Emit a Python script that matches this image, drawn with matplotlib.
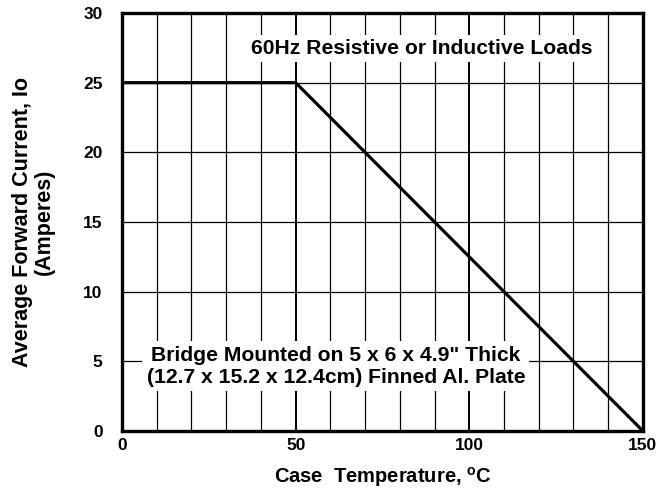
import matplotlib.pyplot as plt
import numpy as np

# derating curve data
temp_c = [0, 50, 150]
current_a = [25, 25, 0]
x_ticks = [0, 50, 100, 150]
y_ticks = [0, 5, 10, 15, 20, 25, 30]

plt.rcParams['font.family'] = ['Liberation Sans', 'DejaVu Sans']
plt.rcParams['font.weight'] = 'bold'

fig = plt.figure(figsize=(6.61, 4.92), dpi=100)
ax = fig.add_axes([0.1846, 0.124, 0.788, 0.8496])

ax.set_xlim(0, 150)
ax.set_ylim(0, 30)

# grid: every 10 on x, every 5 on y
for xv in np.arange(10, 150, 10):
    lw = 1.4 if xv in (50, 100) else 0.9
    ax.axvline(xv, color='black', lw=lw, zorder=1)
for yv in np.arange(5, 30, 5):
    ax.axhline(yv, color='black', lw=0.9, zorder=1)

ax.plot(temp_c, current_a, color='black', lw=2.3, zorder=3,
        solid_capstyle='butt', solid_joinstyle='miter')

for sp in ax.spines.values():
    sp.set_linewidth(2.4)
    sp.set_zorder(4)

ax.set_xticks(x_ticks)
ax.set_yticks(y_ticks)
ax.tick_params(length=0, labelsize=12.5)
for lab in ax.get_xticklabels() + ax.get_yticklabels():
    lab.set_fontweight('bold')
ax.tick_params(axis='x', pad=5)
ax.tick_params(axis='y', pad=14)

ax.set_xlabel('Case  Temperature, $^{\\mathregular{o}}$C', fontsize=14.5,
              fontweight='bold', labelpad=9)
ax.set_ylabel('Average Forward Current, Io\n(Amperes)', fontsize=15.5,
              fontweight='bold', labelpad=20, linespacing=1.05)

box = dict(facecolor='white', edgecolor='none', pad=3)
ax.text(86.4, 27.45, '60Hz Resistive or Inductive Loads', fontsize=15.2,
        fontweight='bold', ha='center', va='center', bbox=box, zorder=2)
ax.text(61.6, 4.65, 'Bridge Mounted on 5 x 6 x 4.9" Thick\n(12.7 x 15.2 x 12.4cm) Finned Al. Plate',
        fontsize=15.2, fontweight='bold', ha='center', va='center',
        linespacing=1.2, bbox=box, zorder=2)

fig.savefig('out.png', dpi=100)
